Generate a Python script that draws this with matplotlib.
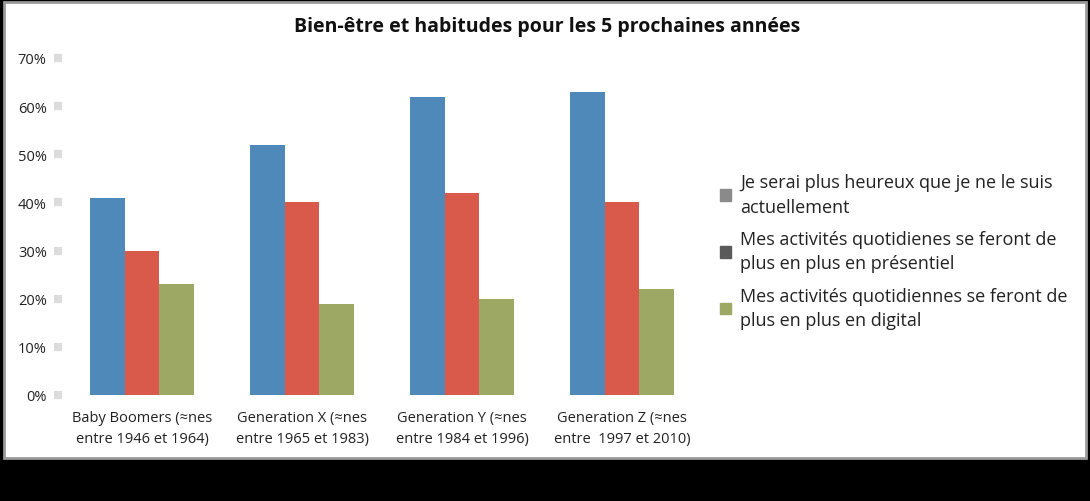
import numpy as np
import matplotlib.pyplot as plt
from matplotlib.patches import Rectangle

# data
groups = ['Baby Boomers (≈nes\nentre 1946 et 1964)',
          'Generation X (≈nes\nentre 1965 et 1983)',
          'Generation Y (≈nes\nentre 1984 et 1996)',
          'Generation Z (≈nes\nentre  1997 et 2010)']
heureux = [41, 52, 62, 63]
presentiel = [30, 40, 42, 40]
digital = [23, 19, 20, 22]
series_names = ['Je serai plus heureux que je ne le suis\nactuellement',
                'Mes activités quotidienes se feront de\nplus en plus en présentiel',
                'Mes activités quotidiennes se feront de\nplus en plus en digital']
yticks = [0, 10, 20, 30, 40, 50, 60, 70]

colors = ['#4F89BA', '#D9594A', '#9CA864']
legend_colors = ['#8a8a8a', '#5a5a5a', '#9CA864']

plt.rcParams['font.family'] = ['Open Sans', 'DejaVu Sans']

fig = plt.figure(figsize=(10.9, 5.02), dpi=100)
fig.patch.set_facecolor('black')
# white chart panel with grey border
fig.patches.append(Rectangle((4 / 1090, 1 - 459 / 502), 1082 / 1090, 456 / 502,
                             transform=fig.transFigure, facecolor='white',
                             edgecolor='#9a9a9a', linewidth=2, zorder=-5))

ax = fig.add_axes([62 / 1090, 1 - 396 / 502, 640 / 1090, 337 / 502])
ax.set_facecolor('none')
ax.set_zorder(2)

x = np.arange(len(groups))
w = 0.215
for i, vals in enumerate([heureux, presentiel, digital]):
    ax.bar(x + (i - 1) * w, vals, w, color=colors[i], edgecolor='none',
           label=series_names[i], zorder=2)

ax.set_xlim(-0.5, len(groups) - 0.5)
ax.set_ylim(0, 70)
ax.set_yticks(yticks)
ax.set_yticklabels([f'{t}%' for t in yticks], fontsize=10.5, color='#222222')
ax.set_xticks(x)
ax.set_xticklabels(groups, fontsize=10.5, color='#222222', linespacing=1.5)
ax.tick_params(axis='y', length=6, width=6, color='#dcdcdc', pad=5)
ax.tick_params(axis='x', length=0, pad=11)
for s in ax.spines.values():
    s.set_visible(False)

fig.text(547 / 1090, 1 - 27 / 502, 'Bien-être et habitudes pour les 5 prochaines années',
         ha='center', va='center', fontsize=14, fontweight='bold', color='#111111')

handles = [Rectangle((0, 0), 1, 1, color=c) for c in legend_colors]
leg = fig.legend(handles, series_names, loc='upper left',
                 bbox_to_anchor=(704 / 1090, 1 - 158 / 502), frameon=False,
                 fontsize=13, handlelength=0.6, handleheight=0.6,
                 handletextpad=0.5, labelspacing=0.8, labelcolor='#222222')
for t in leg.get_texts():
    t.set_linespacing(1.45)

fig.savefig('out.png', dpi=100, facecolor=fig.get_facecolor())
